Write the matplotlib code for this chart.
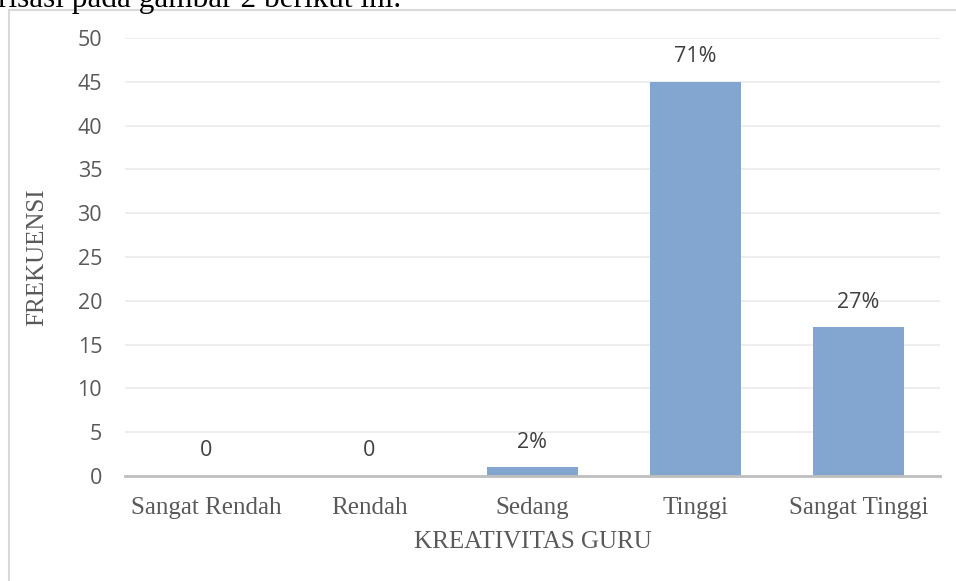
import matplotlib.pyplot as plt
from matplotlib.patches import Rectangle

categories = ["Sangat Rendah", "Rendah", "Sedang", "Tinggi", "Sangat Tinggi"]
frekuensi = [0, 0, 1, 45, 17]
bar_labels = ["0", "0", "2%", "71%", "27%"]
y_ticks = [0, 5, 10, 15, 20, 25, 30, 35, 40, 45, 50]

W, H = 956, 581
fig = plt.figure(figsize=(W / 100, H / 100), dpi=100)

# chart frame (partly outside the image)
fig.patches.append(Rectangle((9 / W, -0.1), 1.1, 1 - 10 / H + 0.1,
                             transform=fig.transFigure, fill=False,
                             edgecolor="#D9D9D9", linewidth=1.5))
# cut-off line of document text above the chart
fig.text(-2 / W, 1 - 6.5 / H, "risasi pada gambar 2 berikut ini.",
         family="Liberation Serif", fontsize=22.5, color="black",
         ha="left", va="baseline")

ax = fig.add_axes([125 / W, 1 - 476 / H, 815 / W, 438 / H])
x = range(len(categories))
ax.bar(x, frekuensi, width=0.56, color="#82A6CF", zorder=3)

for xi, v, lab in zip(x, frekuensi, bar_labels):
    ax.annotate(lab, (xi, v), xytext=(0, 18), textcoords="offset points",
                ha="center", va="center", family="Open Sans",
                fontsize=15.5, color="#404040")

ax.set_xlim(-0.5, len(categories) - 0.5)
ax.set_ylim(0, 50)
ax.set_yticks(y_ticks)
ax.set_xticks(list(x))
ax.set_xticklabels(categories, family="Liberation Serif", fontsize=18,
                   color="#595959")
for t in ax.get_yticklabels():
    t.set_family("Open Sans")
    t.set_fontsize(15.5)
    t.set_color("#595959")
ax.tick_params(length=0)
ax.tick_params(axis="y", pad=16.5)
ax.tick_params(axis="x", pad=15)

ax.grid(axis="y", color="#EBEBEB", linewidth=1.2, zorder=0)
for s in ["top", "right", "left"]:
    ax.spines[s].set_visible(False)
ax.spines["bottom"].set_color("#BFBFBF")
ax.spines["bottom"].set_linewidth(2)
ax.spines["bottom"].set_zorder(4)

ax.set_xlabel("KREATIVITAS GURU", family="Liberation Serif", fontsize=18,
              color="#595959", labelpad=9)
ax.set_ylabel("FREKUENSI", family="Liberation Serif", fontsize=18,
              color="#595959", labelpad=21)

fig.savefig("out.png", dpi=100)
